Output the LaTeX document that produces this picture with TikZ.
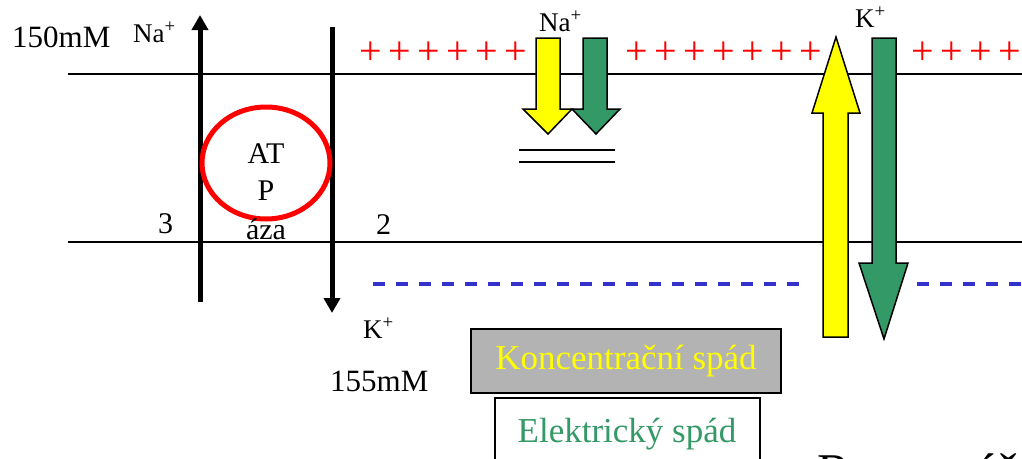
\documentclass[tikz,border=0pt]{standalone}
\usepackage{fontspec}
\setmainfont{Liberation Serif}
\usetikzlibrary{arrows.meta}
\definecolor{yel}{HTML}{FFFF00}
\definecolor{grn}{HTML}{339966}
\definecolor{blu}{HTML}{3333CC}
\definecolor{boxgray}{HTML}{B3B3B3}
\tikzset{
  memb/.style={line width=1.5pt, black},
  pump/.style={line width=5pt, -{Triangle[width=16pt,length=15pt]}},
  plussign/.style={text=red, font=\fontsize{40}{46}\selectfont, inner sep=0pt},
  ionlbl/.style={font=\fontsize{27}{31}\selectfont, inner sep=0pt, anchor=base west},
  biglbl/.style={font=\fontsize{31}{37}\selectfont, inner sep=0pt, anchor=base west},
  atplbl/.style={font=\fontsize{30}{36}\selectfont, inner sep=0pt, anchor=base},
  blockarrow/.style={draw=black, line width=1.5pt, line join=miter},
  charge/.style={blu, line width=4.3pt, dash pattern=on 12pt off 11pt},
}
\begin{document}
\begin{tikzpicture}[x=1pt,y=-1pt]
\useasboundingbox (0,0) rectangle (1022,458);
\clip (0,0) rectangle (1022,458);
% membranes
\draw[memb] (68,74) -- (1022,74);
\draw[memb] (68,242) -- (1022,242);
% charges
\foreach \x in {371,400,429,458,487,516,637,666,695,724,753,782,811,923,952,981,1010}
  \node[plussign] (p\x) at (\x,53) {+};
\draw[charge] (373,284) -- (806,284);
\draw[charge] (917,284) -- (1022,284);
% pump
\draw[pump] (200,302) -- (200,15);
\draw[pump] (332,27) -- (332,313);
\draw[red, line width=5pt] (266,163) ellipse [x radius=64, y radius=56];
\node[atplbl] (atp1) at (266,163) {AT};
\node[atplbl] (atp2) at (266,200) {P};
\node[atplbl] (atp3) at (266,239) {áza};
\node[biglbl] (c150) at (12,47) {150mM};
\node[biglbl] (c155) at (330,391) {155mM};
\node[ionlbl] (na1) at (133,42) {Na\textsuperscript{+}};
\node[ionlbl] (k1) at (363,338) {K\textsuperscript{+}};
\node[atplbl, anchor=base west] (n3) at (158,233) {3};
\node[atplbl, anchor=base west] (n2) at (376,234) {2};
% Na+ gradients
\node[ionlbl] (na2) at (539,31) {Na\textsuperscript{+}};
\draw[blockarrow, fill=yel] (536,38) -- (560,38) -- (560,109) -- (572,109) -- (548,134) -- (523,109) -- (536,109) -- cycle;
\draw[blockarrow, fill=grn] (583,38) -- (607,38) -- (607,109) -- (620,109) -- (596,134) -- (572,109) -- (583,109) -- cycle;
\draw[memb] (519,150) -- (615,150);
\draw[memb] (519,162) -- (615,162);
% K+ gradients
\node[ionlbl] (k2) at (855,27) {K\textsuperscript{+}};
\draw[blockarrow, fill=yel] (823,337) -- (848,337) -- (848,113) -- (860,113) -- (836,37) -- (812,113) -- (823,113) -- cycle;
\draw[blockarrow, fill=grn] (872,38) -- (896,38) -- (896,263) -- (908,263) -- (884,339) -- (859,263) -- (872,263) -- cycle;
% legend
\node[draw=black, line width=1.5pt, fill=boxgray, minimum width=310pt, minimum height=64pt, inner sep=0pt,
      text=yel, font=\fontsize{35}{40}\selectfont] (conc) at (626,361) {Koncentrační spád};
\draw[line width=1.5pt, fill=white] (495,398) rectangle (760,475);
\node[text=grn, font=\fontsize{35}{40}\selectfont, inner sep=0pt, anchor=base] (elec) at (627,442) {Elektrický spád};
\node[font=\fontsize{50}{56}\selectfont, inner sep=0pt, anchor=base west] (rov) at (817,488) {Rovnovážný};
\end{tikzpicture}
\end{document}
